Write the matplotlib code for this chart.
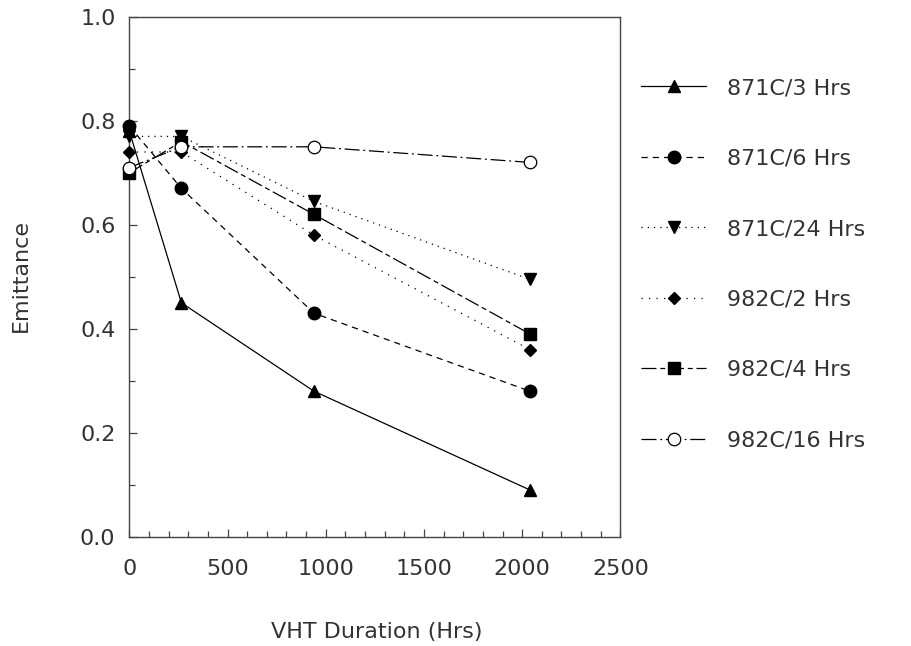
import matplotlib
matplotlib.use("Agg")
import matplotlib.pyplot as plt
from matplotlib.ticker import MultipleLocator

hours = [0, 265, 940, 2040]
labels = ["871C/3 Hrs", "871C/6 Hrs", "871C/24 Hrs", "982C/2 Hrs", "982C/4 Hrs", "982C/16 Hrs"]
s_871_3 = [0.78, 0.45, 0.28, 0.09]
s_871_6 = [0.79, 0.67, 0.43, 0.28]
s_871_24 = [0.77, 0.77, 0.645, 0.495]
s_982_2 = [0.74, 0.74, 0.58, 0.36]
s_982_4 = [0.70, 0.76, 0.62, 0.39]
s_982_16 = [0.71, 0.75, 0.75, 0.72]

xticks = [0, 500, 1000, 1500, 2000, 2500]
yticks = [0.0, 0.2, 0.4, 0.6, 0.8, 1.0]

plt.rcParams['font.family'] = ['DejaVu Sans']
tc = '#333333'

fig = plt.figure(figsize=(9.11, 6.46), dpi=100)
ax = fig.add_axes([0.142, 0.169, 0.539, 0.805])

k = 'black'
lw = 0.9
common = dict(color=k, lw=lw, clip_on=False, zorder=3)
ax.plot(hours, s_871_3, ls='-', marker='^', ms=9, label=labels[0], **common)
ax.plot(hours, s_871_6, ls=(0, (5, 4)), marker='o', ms=9, label=labels[1], **common)
ax.plot(hours, s_871_24, ls=(0, (1, 4)), marker='v', ms=9, label=labels[2], **common)
ax.plot(hours, s_982_2, ls=(0, (1, 5)), marker='D', ms=6.5, label=labels[3], **common)
ax.plot(hours, s_982_4, ls=(0, (12, 3, 4, 3)), marker='s', ms=9, label=labels[4], **common)
ax.plot(hours, s_982_16, ls=(0, (12, 3, 1.5, 3)), marker='o', ms=9,
        mfc='white', mec=k, mew=0.9, label=labels[5], **common)

ax.set_xlim(0, 2500)
ax.set_ylim(0, 1.0)
ax.set_xticks(xticks)
ax.set_xticklabels([str(v) for v in xticks])
ax.set_yticks(yticks)
ax.set_yticklabels([f"{v:.1f}" for v in yticks])
ax.xaxis.set_minor_locator(MultipleLocator(100))
ax.yaxis.set_minor_locator(MultipleLocator(0.1))
ax.tick_params(which='both', direction='in', top=False, right=False, colors='#444444',
               labelcolor=tc, labelsize=16)
ax.tick_params(which='major', length=6, width=0.9)
ax.tick_params(which='minor', length=4, width=0.9)
ax.tick_params(axis='x', pad=16)
ax.tick_params(axis='y', pad=10)
for sp in ax.spines.values():
    sp.set_color('#444444')
    sp.set_linewidth(1.0)

ax.set_xlabel("VHT Duration (Hrs)", fontsize=16, color=tc)
ax.set_ylabel("Emittance", fontsize=16, color=tc)
ax.xaxis.set_label_coords(0.503, -0.183)
ax.xaxis.label.set_va('center')
ax.yaxis.set_label_coords(-0.221, 0.502)
ax.yaxis.label.set_va('center')

leg = ax.legend(loc='upper left', bbox_to_anchor=(0.704, 0.879), bbox_transform=fig.transFigure,
                frameon=False, fontsize=16, handlelength=2.9, labelspacing=2.27,
                handletextpad=0.95, borderaxespad=0, borderpad=0)
for t in leg.get_texts():
    t.set_color(tc)

fig.savefig("out.png", dpi=100, facecolor='white')
